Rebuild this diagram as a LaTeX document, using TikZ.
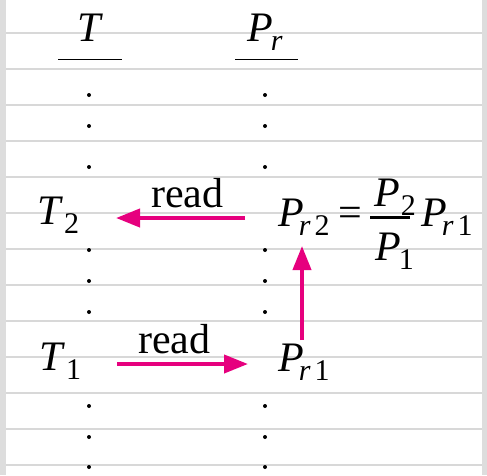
\documentclass[tikz,border=0pt]{standalone}
\usepackage{fontspec}
\setmainfont{Liberation Serif}
\usetikzlibrary{arrows.meta}
\definecolor{mag}{RGB}{230,0,126}
\definecolor{rulegray}{RGB}{216,216,216}
\definecolor{framegray}{RGB}{221,221,221}
\newcommand{\bigf}{\fontsize{42}{48}\selectfont}
\newcommand{\smallf}{\fontsize{30}{34}\selectfont}
\newcommand{\Sub}[1]{\raisebox{-9pt}{\smallf #1}}
\tikzset{
  txt/.style={inner sep=0pt, anchor=base west, font=\bigf},
  hline/.style={rulegray, line width=1.2pt},
  uline/.style={black, line width=1pt},
  arr/.style={mag, line width=4pt, -{Triangle[length=24pt,width=18pt]}},
  dotmark/.style={fill=black, draw=none}
}
\begin{document}
\begin{tikzpicture}[x=1pt,y=-1pt]
\useasboundingbox (0,0) rectangle (487,475);
% frame
\fill[framegray] (0,0) rectangle (6,475);
\fill[framegray] (482,0) rectangle (487,475);
% ruled lines
\foreach \k in {0,...,12}{
  \draw[hline] (6,33+36*\k) -- (482,33+36*\k);
}
% headers
\node[txt, anchor=base] (hT) at (90,41) {\textit{T}};
\node[txt] (hP) at (247,41) {\textit{P}\kern-2pt\Sub{\textit{r}}};
\draw[uline] (58,59.5) -- (122,59.5);
\draw[uline] (235,59.5) -- (298,59.5);
% dots
\foreach \yy in {95,126,167,250,281,312,406,437,467}{
  \fill[dotmark] (89,\yy) circle (2);
  \fill[dotmark] (265,\yy) circle (2);
}
% row 2
\node[txt] (t2) at (37,224) {\textit{T}\kern1pt\Sub{2}};
\node[txt] (r2) at (151,207) {read};
\node[txt] (pr2) at (278,226) {\textit{P}\kern-5pt\Sub{\textit{r}\kern4pt2}};
\node[txt, anchor=base] (eq) at (350,226) {=};
\node[txt] (num) at (374,206) {\textit{P}\kern1pt\Sub{2}};
\node[txt] (den) at (375,260) {\textit{P}\kern-2pt\Sub{1}};
\draw[black, line width=3pt] (370,217.5) -- (410,217.5);
\node[txt] (pr1eq) at (421,226) {\textit{P}\kern-5pt\Sub{\textit{r}\kern4pt1}};
% row 1
\node[txt] (t1) at (39,370) {\textit{T}\kern1pt\Sub{1}};
\node[txt] (r1) at (138,353) {read};
\node[txt] (pr1) at (278,371) {\textit{P}\kern-5pt\Sub{\textit{r}\kern4pt1}};
% arrows
\coordinate (a2s) at (245,218);
\coordinate (a2e) at (116,218);
\draw[arr] (a2s) -- (a2e);
\coordinate (a1s) at (117,364);
\coordinate (a1e) at (248,364);
\draw[arr] (a1s) -- (a1e);
\coordinate (avs) at (302,340);
\coordinate (ave) at (302,246);
\draw[arr] (avs) -- (ave);
\end{tikzpicture}
\end{document}
